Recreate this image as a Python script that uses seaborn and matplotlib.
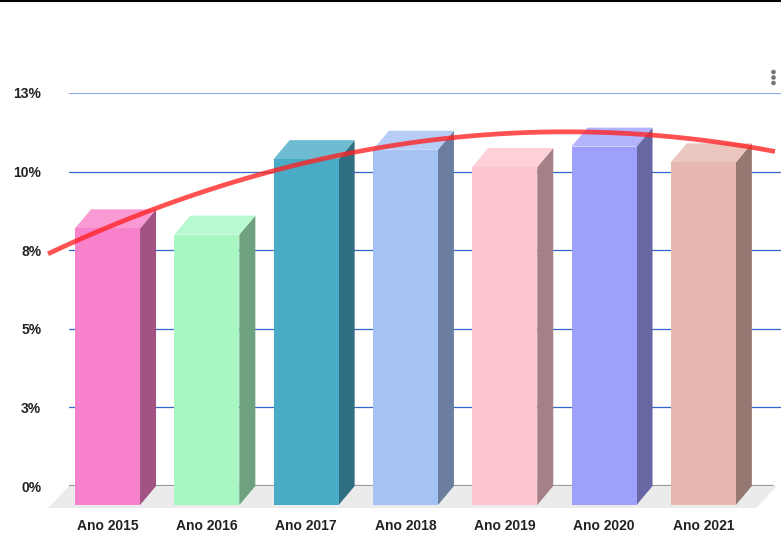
import numpy as np
import pandas as pd
import seaborn as sns
import matplotlib.pyplot as plt
from matplotlib.colors import to_rgb
from matplotlib.patches import Polygon, Ellipse
from matplotlib.lines import Line2D

anos = ["Ano 2015", "Ano 2016", "Ano 2017", "Ano 2018", "Ano 2019", "Ano 2020", "Ano 2021"]
valores = [8.8, 8.6, 11.0, 11.3, 10.75, 11.4, 10.9]
ytick_vals = [0, 2.5, 5, 7.5, 10, 12.5]
ytick_labels = ["0%", "3%", "5%", "8%", "10%", "13%"]
cores = ["#f781cb", "#a8f7c3", "#4aabc6", "#a4c2f4", "#fec6cf", "#9f9ffc", "#e6b8af"]

sns.set_theme(style="white")
plt.rcParams["font.family"] = ["Liberation Sans", "DejaVu Sans"]

W, H = 781, 536
fig = plt.figure(figsize=(W / 100, H / 100), dpi=100)
ax = fig.add_axes([69 / W, 50 / H, 712 / W, 393 / H])

df = pd.DataFrame({"ano": anos, "valor": valores})
sns.barplot(data=df, x="ano", y="valor", hue="ano", palette=cores, width=0.655,
            saturation=1, legend=False, ax=ax)
ax.set_xlim(-0.549, 6.621)
ax.set_ylim(0, 12.5)
ax.set_xticks([])
ax.set_xlabel("")
ax.set_ylabel("")
for s in ax.spines.values():
    s.set_visible(False)


def desloca(x, y, dx, dy):
    # move a data point by some pixels (3d depth effect)
    X, Y = ax.transData.transform((x, y))
    return ax.transData.inverted().transform((X + dx, Y + dy))


# depth of bars / floor in pixels
ddx, ddy = desloca(0, 0, -16, -19)
fdx, fdy = desloca(0, 0, -21, -22)
xlo, xhi = ax.get_xlim()

# gridlines on back wall
for v in ytick_vals[1:]:
    if v == ytick_vals[-1]:
        ax.axhline(v, color="#86a6e8", lw=1.5, zorder=0.5)
    else:
        ax.axhline(v, color="#3366cc", lw=0.9, zorder=0.5)

# floor
x_fim = xlo + (777 - 69) / 712 * (xhi - xlo)
chao = Polygon([(xlo, 0), (x_fim, 0), (x_fim + fdx, fdy), (xlo + fdx, fdy)],
               closed=True, facecolor="#ebebeb", edgecolor="none", zorder=1, clip_on=False)
ax.add_patch(chao)
ax.axhline(0, xmin=0, xmax=(773 - 69) / 712, color="#9a9a9a", lw=1.6, zorder=1.5)

# 3d bars
for p, cor in zip(ax.patches[:len(anos)], cores):
    x0, w, v = p.get_x(), p.get_width(), p.get_height()
    x1 = x0 + w
    rgb = np.array(to_rgb(cor))
    lado = rgb * 0.65
    topo = rgb + (1 - rgb) * 0.2
    ax.add_patch(Polygon([(x1 + ddx, ddy), (x1 + ddx, v + ddy), (x1, v), (x1, 0)],
                         closed=True, facecolor=lado, edgecolor="none", zorder=2, clip_on=False))
    ax.add_patch(Polygon([(x0 + ddx, v + ddy), (x1 + ddx, v + ddy), (x1, v), (x0, v)],
                         closed=True, facecolor=topo, edgecolor="none", zorder=2, clip_on=False))
    p.set_x(x0 + ddx)
    p.set_y(ddy)
    p.set_edgecolor("none")
    p.set_zorder(3)
    p.set_clip_on(False)

# polynomial trendline
coef = np.polyfit(np.arange(len(valores)), valores, 2)
xs = np.linspace(-0.76, len(valores) - 1 + 0.56, 200)
ax.plot(xs, np.polyval(coef, xs), color="#ff2020", alpha=0.78, lw=3.4,
        zorder=10, clip_on=False, solid_capstyle="butt")

# axis labels
ax.set_yticks(ytick_vals, ytick_labels)
ax.tick_params(axis="y", length=0, pad=20, labelsize=10, labelcolor="#222222")
for t in ax.get_yticklabels():
    t.set_fontweight("bold")
for i, a in enumerate(anos):
    tx, ty = desloca(i, 0, -16, -40)
    ax.text(tx, ty, a, ha="center", va="center", fontsize=10, fontweight="bold",
            color="#222222", clip_on=False)

# top border and menu dots
fig.add_artist(Line2D([0, 1], [1 - 0.8 / H, 1 - 0.8 / H], transform=fig.transFigure,
                      color="black", lw=1.5))
for yy in [72, 77.5, 83]:
    fig.add_artist(Ellipse((773.5 / W, 1 - yy / H), 3.2 / W, 3.2 / H,
                           transform=fig.transFigure, color="#757575"))

fig.savefig("out.png", dpi=100)
